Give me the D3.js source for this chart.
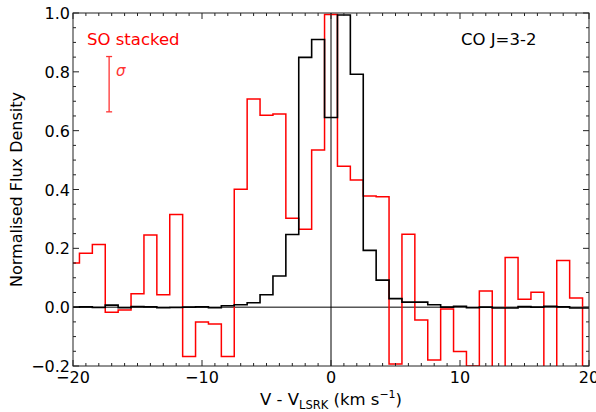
<!DOCTYPE html>
<html><head><meta charset="utf-8">
<script src="https://cdn.jsdelivr.net/npm/d3@7"></script>
<style>body{margin:0;background:#fff;} svg{display:block;}</style>
</head><body>
<script>
const velocity = [-20,-19,-18,-17,-16,-15,-14,-13,-12,-11,-10,-9,-8,-7,-6,-5,-4,-3,-2,-1,0,1,2,3,4,5,6,7,8,9,10,11,12,13,14,15,16,17,18,19,20];
const soStacked = [0.150,0.183,0.213,-0.017,-0.010,0.046,0.245,0.042,0.315,-0.168,-0.050,-0.057,-0.168,0.401,0.708,0.652,0.657,0.302,0.265,0.534,0.995,0.479,0.432,0.378,0.375,-0.193,0.248,-0.044,-0.180,-0.006,-0.151,-0.200,0.055,-0.250,0.169,0.027,0.051,-0.250,0.159,0.031,-0.250];
const coJ32 = [0.000,0.001,-0.001,0.007,-0.002,0.002,0.001,-0.002,-0.001,0.000,0.001,-0.002,0.005,0.008,0.015,0.042,0.106,0.247,0.849,0.910,0.645,0.993,0.792,0.193,0.092,0.029,0.017,0.017,0.008,0.000,0.003,-0.002,0.000,-0.003,-0.003,0.002,0.000,0.003,0.001,-0.003,-0.003];
const xTickLabels = [-20,-10,0,10,20];
const yTickLabels = [-0.2,0.0,0.2,0.4,0.6,0.8,1.0];
const sigmaBar = [0.664, 0.852];
const sigmaX = -17.2;

const W = 596, H = 412;
const m = {left:73, right:7, top:13, bottom:46};
const svg = d3.select("body").append("svg").attr("width",W).attr("height",H);
const x = d3.scaleLinear().domain([-20,20]).range([m.left, W-m.right]);
const y = d3.scaleLinear().domain([-0.2,1.0]).range([H-m.bottom, m.top]);
const font = "DejaVu Sans, sans-serif";

svg.append("defs").append("clipPath").attr("id","clip")
  .append("rect").attr("x",m.left).attr("y",m.top)
  .attr("width",W-m.left-m.right).attr("height",H-m.top-m.bottom);

const plot = svg.append("g").attr("clip-path","url(#clip)");
// zero lines
plot.append("line").attr("x1",x(-20)).attr("x2",x(20)).attr("y1",y(0)).attr("y2",y(0))
  .attr("stroke","#000").attr("stroke-width",1);
plot.append("line").attr("x1",x(0)).attr("x2",x(0)).attr("y1",y(1.0)).attr("y2",y(-0.2))
  .attr("stroke","#000").attr("stroke-width",1);

const line = (vals) => d3.line().x((d,i)=>x(velocity[i])).y(d=>y(d)).curve(d3.curveStep)(vals);
plot.append("path").attr("d",line(soStacked)).attr("fill","none").attr("stroke","#ff0000").attr("stroke-width",1.5);
plot.append("path").attr("d",line(coJ32)).attr("fill","none").attr("stroke","#000").attr("stroke-width",1.6);

// axes with inward ticks on all sides
const xMinor = d3.range(-20,21,1), yMinor = d3.range(-0.2,1.0001,0.05);
const axG = svg.append("g").attr("stroke","#222").attr("stroke-width",1);
xMinor.forEach(v=>{
  const L = (Math.abs(v)%10===0)?6:3;
  axG.append("line").attr("x1",x(v)).attr("x2",x(v)).attr("y1",y(-0.2)).attr("y2",y(-0.2)-L);
  axG.append("line").attr("x1",x(v)).attr("x2",x(v)).attr("y1",y(1.0)).attr("y2",y(1.0)+L);
});
yMinor.forEach(v=>{
  const isMaj = Math.abs(Math.round(v*5)-v*5)<1e-6;
  const L = isMaj?6:3;
  axG.append("line").attr("x1",x(-20)).attr("x2",x(-20)+L).attr("y1",y(v)).attr("y2",y(v));
  axG.append("line").attr("x1",x(20)).attr("x2",x(20)-L).attr("y1",y(v)).attr("y2",y(v));
});
svg.append("rect").attr("x",m.left).attr("y",m.top).attr("width",W-m.left-m.right).attr("height",H-m.top-m.bottom)
  .attr("fill","none").attr("stroke","#222").attr("stroke-width",1);

const fmtNum = v => (v<0?"\u2212":"") + Math.abs(v);
svg.append("g").selectAll("text").data(xTickLabels).join("text")
  .attr("x",d=>x(d)).attr("y",383).attr("text-anchor","middle")
  .attr("font-family",font).attr("font-size",16).text(d=>fmtNum(d));
svg.append("g").selectAll("text").data(yTickLabels).join("text")
  .attr("x",70).attr("y",d=>y(d)+6).attr("text-anchor","end")
  .attr("font-family",font).attr("font-size",16)
  .text(d=>(d<0?"\u2212":"")+Math.abs(d).toFixed(1));

// axis titles
const xt = svg.append("text").attr("x",x(0)).attr("y",405).attr("text-anchor","middle")
  .attr("font-family",font).attr("font-size",16.5);
xt.append("tspan").text("V - V");
xt.append("tspan").attr("font-size",11.5).attr("dy",4).text("LSRK");
xt.append("tspan").attr("dy",-4).text(" (km s");
xt.append("tspan").attr("font-size",11).attr("dy",-7).text("\u22121");
xt.append("tspan").attr("dy",7).text(")");

svg.append("text").attr("transform",`translate(22,${(m.top+H-m.bottom)/2}) rotate(-90)`)
  .attr("text-anchor","middle").attr("font-family",font).attr("font-size",16)
  .text("Normalised Flux Density");

// annotations
svg.append("text").attr("x",87).attr("y",45).attr("font-family",font).attr("font-size",16.5)
  .attr("fill","#ff0000").text("SO stacked");
svg.append("text").attr("x",461).attr("y",45).attr("font-family",font).attr("font-size",16.5)
  .attr("fill","#000").text("CO J=3-2");

// sigma error bar
const eg = svg.append("g").attr("stroke","#f33").attr("stroke-width",1.3);
eg.append("line").attr("x1",x(sigmaX)).attr("x2",x(sigmaX)).attr("y1",y(sigmaBar[0])).attr("y2",y(sigmaBar[1]));
sigmaBar.forEach(v=>eg.append("line").attr("x1",x(sigmaX)-3).attr("x2",x(sigmaX)+3).attr("y1",y(v)).attr("y2",y(v)));
svg.append("text").attr("x",x(sigmaX)+7).attr("y",76).attr("font-family",font).attr("font-style","italic")
  .attr("font-size",15).attr("fill","#f33").text("\u03c3");
</script>
</body></html>
